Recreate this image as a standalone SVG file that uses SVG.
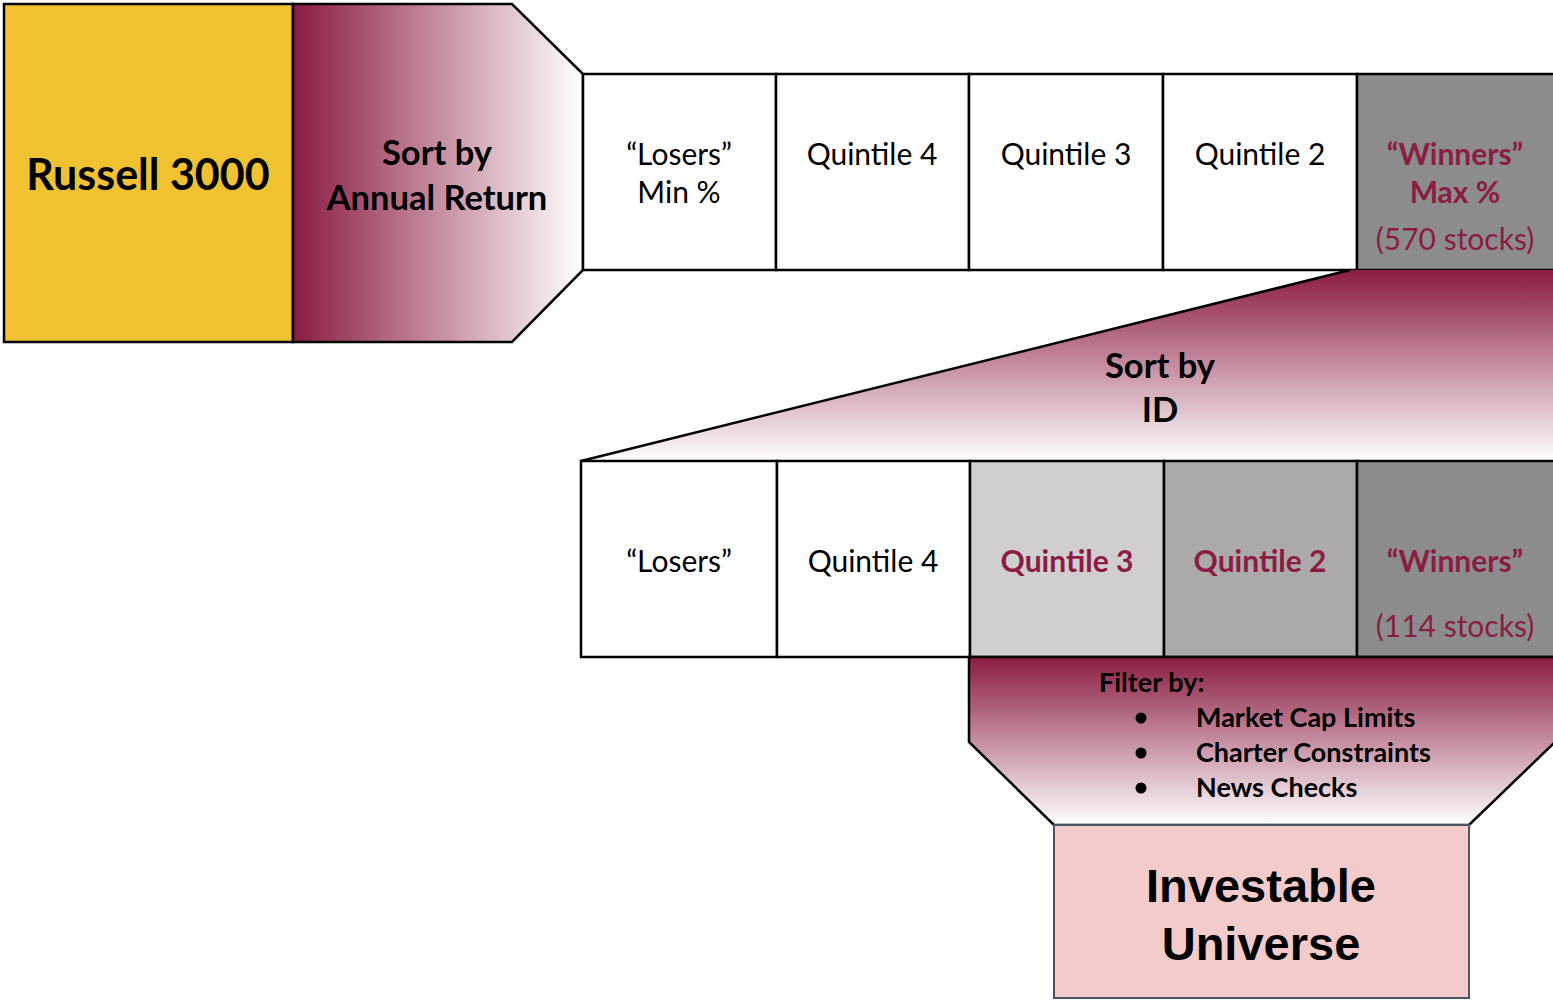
<svg xmlns="http://www.w3.org/2000/svg" width="1553" height="1000" viewBox="0 0 1553 1000">
  <defs>
    <linearGradient id="gradH" x1="0" y1="0" x2="1" y2="0">
      <stop offset="0" stop-color="#8B1C42"/>
      <stop offset="1" stop-color="#FFFFFF"/>
    </linearGradient>
    <linearGradient id="gradV" x1="0" y1="0" x2="0" y2="1">
      <stop offset="0" stop-color="#8B1C42"/>
      <stop offset="1" stop-color="#FFFFFF"/>
    </linearGradient>
  </defs>
  <style>
    .box { stroke: #000; stroke-width: 2.5; }
    .white { fill: #FFFFFF; }
    .g1 { fill: #D0CECE; }
    .g2 { fill: #ABAAA9; }
    .g3 { fill: #8C8C8C; }
    .t { font-family: Lato, "Open Sans", "Liberation Sans", sans-serif; font-size: 30px; text-anchor: middle; fill: #000; }
    .b { font-weight: bold; }
    .m { fill: #8B1C42; }
    .big { font-size: 43px; }
    .mid { font-size: 34.5px; }
    .flt { font-family: Lato, "Open Sans", "Liberation Sans", sans-serif; font-size: 27px; font-weight: bold; fill: #000; }
    .inv { font-family: "Liberation Sans", Arial, sans-serif; font-size: 47px; font-weight: bold; text-anchor: middle; fill: #000; }
  </style>

  <!-- Stage 1: index universe -->
  <g id="russell">
    <rect class="box" x="4" y="4" width="289" height="338" fill="#F0C232"/>
    <text class="t b big" x="148" y="190">Russell 3000</text>
  </g>

  <!-- Sort by annual return funnel -->
  <g id="sort-return">
    <polygon class="box" points="293,4 512,4 583,74 583,270 512,342 293,342" fill="url(#gradH)"/>
    <text class="t b mid" x="437" y="165">Sort by</text>
    <text class="t b mid" x="437" y="210">Annual Return</text>
  </g>

  <!-- Return quintiles -->
  <g id="ret-losers">
    <rect class="box white" x="583" y="74" width="193" height="196"/>
    <text class="t" x="679" y="165">“Losers”</text>
    <text class="t" x="679" y="203">Min %</text>
  </g>
  <g id="ret-q4">
    <rect class="box white" x="776" y="74" width="193" height="196"/>
    <text class="t" x="872" y="165">Quintile 4</text>
  </g>
  <g id="ret-q3">
    <rect class="box white" x="969" y="74" width="194" height="196"/>
    <text class="t" x="1066" y="165">Quintile 3</text>
  </g>
  <g id="ret-q2">
    <rect class="box white" x="1163" y="74" width="194" height="196"/>
    <text class="t" x="1260" y="165">Quintile 2</text>
  </g>
  <g id="ret-winners">
    <rect class="box g3" x="1357" y="74" width="198" height="196"/>
    <text class="t b m" x="1455" y="165">“Winners”</text>
    <text class="t b m" x="1455" y="203">Max %</text>
    <text class="t m" x="1455" y="250">(570 stocks)</text>
  </g>

  <!-- Sort by ID funnel -->
  <g id="sort-id">
    <polygon points="1350,270 1555,270 1555,461 581,461" fill="url(#gradV)"/>
    <line x1="581" y1="461" x2="1350" y2="270" stroke="#000" stroke-width="2.5"/>
    <text class="t b mid" x="1160" y="378">Sort by</text>
    <text class="t b mid" x="1160" y="422">ID</text>
  </g>

  <!-- ID quintiles -->
  <g id="id-losers">
    <rect class="box white" x="581" y="461" width="196" height="196"/>
    <text class="t" x="679" y="572">“Losers”</text>
  </g>
  <g id="id-q4">
    <rect class="box white" x="777" y="461" width="193" height="196"/>
    <text class="t" x="873" y="572">Quintile 4</text>
  </g>
  <g id="id-q3">
    <rect class="box g1" x="970" y="461" width="194" height="196"/>
    <text class="t b m" x="1067" y="572">Quintile 3</text>
  </g>
  <g id="id-q2">
    <rect class="box g2" x="1164" y="461" width="193" height="196"/>
    <text class="t b m" x="1260" y="572">Quintile 2</text>
  </g>
  <g id="id-winners">
    <rect class="box g3" x="1357" y="461" width="198" height="196"/>
    <text class="t b m" x="1455" y="572">“Winners”</text>
    <text class="t m" x="1455" y="637">(114 stocks)</text>
  </g>

  <!-- Filter funnel -->
  <g id="filter">
    <polygon class="box" points="969,657 1555,657 1555,742 1469,825 1054,825 969,742" fill="url(#gradV)"/>
    <text class="flt" x="1099" y="692">Filter by:</text>
    <circle cx="1141" cy="718" r="5.5" fill="#000"/>
    <circle cx="1141" cy="753" r="5.5" fill="#000"/>
    <circle cx="1141" cy="788" r="5.5" fill="#000"/>
    <text class="flt" x="1196" y="727">Market Cap Limits</text>
    <text class="flt" x="1196" y="762">Charter Constraints</text>
    <text class="flt" x="1196" y="797">News Checks</text>
  </g>

  <!-- Final output -->
  <g id="investable">
    <rect x="1054" y="825" width="415" height="173" fill="#F4CBCB" stroke="#4A5568" stroke-width="2"/>
    <text class="inv" x="1261" y="902">Investable</text>
    <text class="inv" x="1261" y="960">Universe</text>
  </g>

  <!-- connectors: none beyond the funnel shapes -->
  <g id="connectors"/>
</svg>
